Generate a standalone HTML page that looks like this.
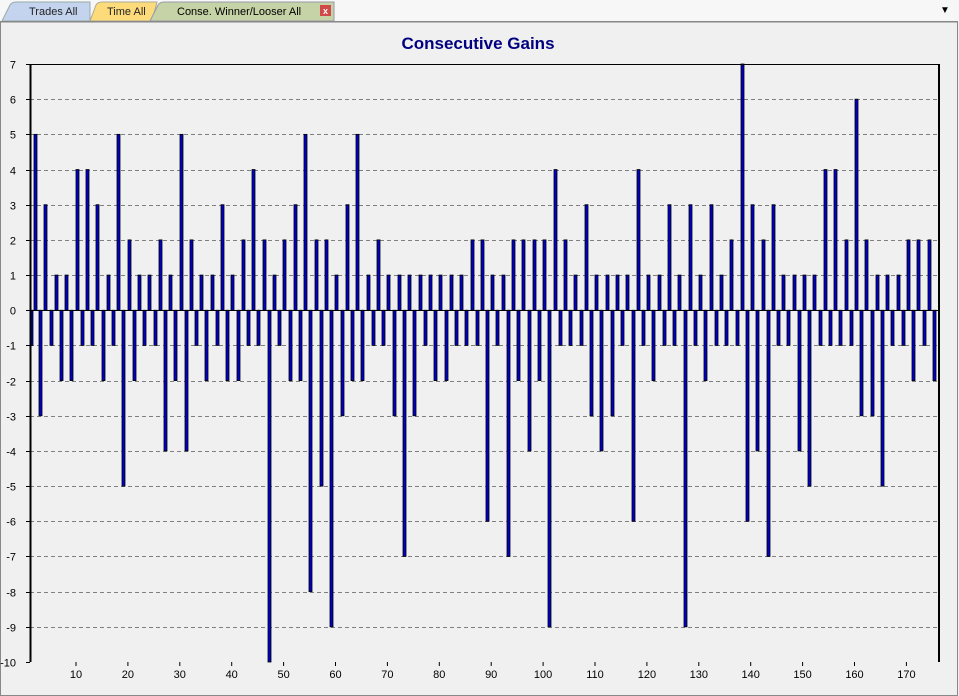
<!DOCTYPE html>
<html><head><meta charset="utf-8"><style>
html,body{margin:0;padding:0;width:959px;height:696px;overflow:hidden;background:#f0f0f0;font-family:"Liberation Sans",sans-serif}
</style></head><body>
<svg id="s" width="959" height="696" xmlns="http://www.w3.org/2000/svg" style="position:absolute;left:0;top:0">
<rect x="0" y="0" width="959" height="22" fill="#f7f7f7"/>
<path d="M2,21 L10,5 Q12,2 16,2 L90,2 L90,21 Z" fill="#c4d4ee" stroke="#9aa" stroke-width="1"/>
<text x="29" y="15" font-size="11" fill="#222">Trades All</text>
<path d="M90,21 L96,5 Q98,2 102,2 L157,2 L152,21 Z" fill="#fddb7a" stroke="#aa9" stroke-width="1"/>
<text x="107" y="15" font-size="11" fill="#222">Time All</text>
<path d="M150,21 L158,5 Q160,2 164,2 L334,2 L334,21 Z" fill="#c5d3a6" stroke="#99a" stroke-width="1"/>
<text x="177" y="15" font-size="11" fill="#000">Conse. Winner/Looser All</text>
<rect x="320" y="5" width="11" height="11" fill="#d04848"/>
<text x="325.5" y="14" font-size="9" fill="#fff" text-anchor="middle" font-weight="bold">x</text>
<text x="945" y="13" font-size="10" fill="#000" text-anchor="middle">▼</text>
<rect x="0.5" y="21.5" width="957" height="674" fill="#f0f0f0" stroke="#888" stroke-width="1"/>
<rect x="1" y="22" width="956" height="1" fill="#bbb"/>
<text x="478" y="49" font-size="17" font-weight="bold" fill="#000080" text-anchor="middle">Consecutive Gains</text>
<g id="g"></g>
</svg>
<script>
var g=document.getElementById('g'),h='';
function Y(v){return 64+(7-v)*(598/17);}
for(var v=7;v>=-10;v--){var y=Math.round(Y(v))+0.5;
 if(v!=7&&v!=-10&&v!=0)h+='<line x1="30" x2="939" y1="'+y+'" y2="'+y+'" stroke="#808080" stroke-dasharray="4,3"/>';
 h+='<line x1="26" x2="30" y1="'+y+'" y2="'+y+'" stroke="#000"/>';
 h+='<text x="16" y="'+(y+4)+'" font-size="11" text-anchor="end" fill="#000">'+v+'</text>';}
for(var n=10;n<=170;n+=10){var x=24.1+5.19*n;
 h+='<line x1="'+x+'" x2="'+x+'" y1="662" y2="666" stroke="#000"/>';
 h+='<text x="'+x+'" y="678" font-size="11" text-anchor="middle" fill="#000">'+n+'</text>';}
var d=[5,-3,3,-1,1,-2,1,-2,4,-1,4,-1,3,-2,1,-1,5,-5,2,-2,1,-1,1,-1,2,-4,1,-2,5,-4,2,-1,1,-2,1,-1,3,-2,1,-2,2,-1,4,-1,2,-10,1,-1,2,-2,3,-2,5,-8,2,-5,2,-9,1,-3,3,-2,5,-2,1,-1,2,-1,1,-3,1,-7,1,-3,1,-1,1,-2,1,-2,1,-1,1,-1,2,-1,2,-6,1,-1,1,-7,2,-2,2,-4,2,-2,2,-9,4,-1,2,-1,1,-1,3,-3,1,-4,1,-3,1,-1,1,-6,4,-1,1,-2,1,-1,3,-1,1,-9,3,-1,1,-2,3,-1,1,-1,2,-1,7,-6,3,-4,2,-7,3,-1,1,-1,1,-4,1,-5,1,-1,4,-1,4,-1,2,-1,6,-3,2,-3,1,-5,1,-1,1,-1,2,-2,2,-1,2,-2];
var step=899/(d.length-1),y0=Y(0);
function bar(x,v){var y1=Math.min(y0,Y(v)),hh=Math.abs(Y(v)-y0);
 h+='<rect x="'+(Math.round(x)-1)+'" y="'+y1+'" width="3" height="'+hh+'" fill="#0000c8" stroke="#000" stroke-width="0.8"/>';}
bar(31,-1);
for(var i=0;i<d.length;i++)bar(35+i*step,d[i]);
h+='<line x1="30.5" x2="30.5" y1="64" y2="662" stroke="#000" stroke-width="2"/>';
h+='<line x1="30" x2="939" y1="64.5" y2="64.5" stroke="#000"/>';
h+='<line x1="939" x2="939" y1="64" y2="662" stroke="#000" stroke-width="2"/>';
h+='<line x1="30" x2="939" y1="'+(Math.round(y0)+0.5)+'" y2="'+(Math.round(y0)+0.5)+'" stroke="#000"/>';
g.innerHTML=h;
</script>
</body></html>
